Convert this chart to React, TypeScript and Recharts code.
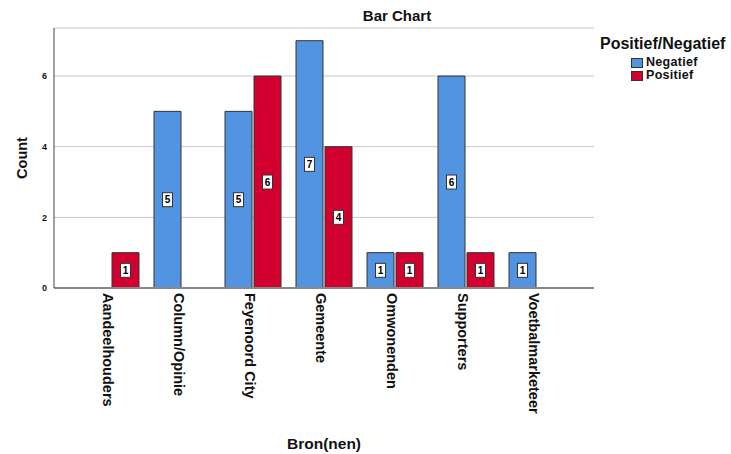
import React from "react"
import {
  Bar,
  BarChart,
  CartesianGrid,
  LabelList,
  Legend,
  XAxis,
  YAxis,
} from "recharts"

const categories = [
  "Aandeelhouders",
  "Column/Opinie",
  "Feyenoord City",
  "Gemeente",
  "Omwonenden",
  "Supporters",
  "Voetbalmarketeer",
]
const negatief: (number | null)[] = [null, 5, 5, 7, 1, 6, 1]
const positief: (number | null)[] = [1, null, 6, 4, 1, 1, null]
const yTicks = [0, 2, 4, 6]

const seriesInfo = [
  { key: "negatief", name: "Negatief", color: "#5294e2" },
  { key: "positief", name: "Positief", color: "#d2002f" },
]

const data = categories.map((c, i) => ({
  bron: c,
  negatief: negatief[i],
  positief: positief[i],
}))

const FONT = "'Liberation Sans', Arial, Helvetica, sans-serif"

function XTick({ x, y, payload }: any) {
  return (
    <text
      transform={`translate(${x - 3},${y}) rotate(90)`}
      textAnchor="start"
      dominantBaseline="central"
      fontFamily={FONT}
      fontWeight="bold"
      fontSize={14.5}
      fill="#111"
    >
      {payload.value}
    </text>
  )
}

function ValueBox(props: any) {
  const { x, y, width, height, value } = props
  if (value == null) return null
  const cx = x + width / 2
  const cy = y + height / 2
  return (
    <g>
      <rect x={cx - 5} y={cy - 7} width={10} height={14} fill="#fff" stroke="#333" strokeWidth={1} />
      <text
        x={cx}
        y={cy}
        textAnchor="middle"
        dominantBaseline="central"
        fontFamily={FONT}
        fontWeight="bold"
        fontSize={10}
        fill="#000"
      >
        {value}
      </text>
    </g>
  )
}

function LegendBox() {
  return (
    <div style={{ fontFamily: FONT, fontWeight: "bold", color: "#111" }}>
      <div style={{ fontSize: 16, lineHeight: "18px", whiteSpace: "nowrap" }}>Positief/Negatief</div>
      <div style={{ marginTop: 3, marginLeft: 31 }}>
        {seriesInfo.map((s) => (
          <div
            key={s.key}
            style={{ display: "flex", alignItems: "center", height: 13, lineHeight: "13px", fontSize: 12.5, letterSpacing: 0.3 }}
          >
            <span
              style={{
                display: "inline-block",
                width: 10,
                height: 8,
                background: s.color,
                border: "1px solid #333",
                marginRight: 3,
              }}
            />
            <span>{s.name}</span>
          </div>
        ))}
      </div>
    </div>
  )
}

export default function App() {
  return (
    <div style={{ position: "absolute", left: 0, top: 0, width: 731, height: 454, background: "#fff" }}>
      <BarChart
        width={731}
        height={454}
        data={data}
        margin={{ top: 28, right: 137, bottom: 0, left: 0 }}
        barSize={27}
        barGap={2}
      >
        <text
          x={397}
          y={21}
          textAnchor="middle"
          fontFamily={FONT}
          fontWeight="bold"
          fontSize={15}
          fill="#111"
        >
          Bar Chart
        </text>
        <CartesianGrid vertical={false} stroke="#c8c8c8" strokeWidth={1} />
        <XAxis
          dataKey="bron"
          height={166}
          padding={{ left: 21, right: 22 }}
          axisLine={{ stroke: "#888", strokeWidth: 2 }}
          tickLine={false}
          tickSize={3}
          tickMargin={2}
          interval={0}
          tick={<XTick />}
          label={{
            value: "Bron(nen)",
            position: "insideBottom",
            offset: 5,
            fontFamily: FONT,
            fontWeight: "bold",
            fontSize: 15.5,
            fill: "#111",
          }}
        />
        <YAxis
          width={54}
          domain={[0, 7.36]}
          ticks={yTicks}
          allowDataOverflow
          axisLine={{ stroke: "#444", strokeWidth: 1 }}
          tickLine={false}
          tickSize={5}
          tickMargin={2}
          tick={{ fontFamily: FONT, fontWeight: "bold", fontSize: 9, fill: "#111" }}
          label={{
            value: "Count",
            angle: -90,
            position: "center",
            dx: -5.5,
            fontFamily: FONT,
            fontWeight: "bold",
            fontSize: 14.5,
            fill: "#111",
          }}
        />
        <Legend
          layout="vertical"
          align="center"
          verticalAlign="middle"
          wrapperStyle={{ left: 600, top: 35, width: 131 }}
          content={() => <LegendBox />}
        />
        {seriesInfo.map((s) => (
          <Bar
            key={s.key}
            dataKey={s.key}
            name={s.name}
            fill={s.color}
            stroke="#333"
            strokeWidth={1}
            isAnimationActive={false}
          >
            <LabelList dataKey={s.key} content={<ValueBox />} />
          </Bar>
        ))}
      </BarChart>
    </div>
  )
}
